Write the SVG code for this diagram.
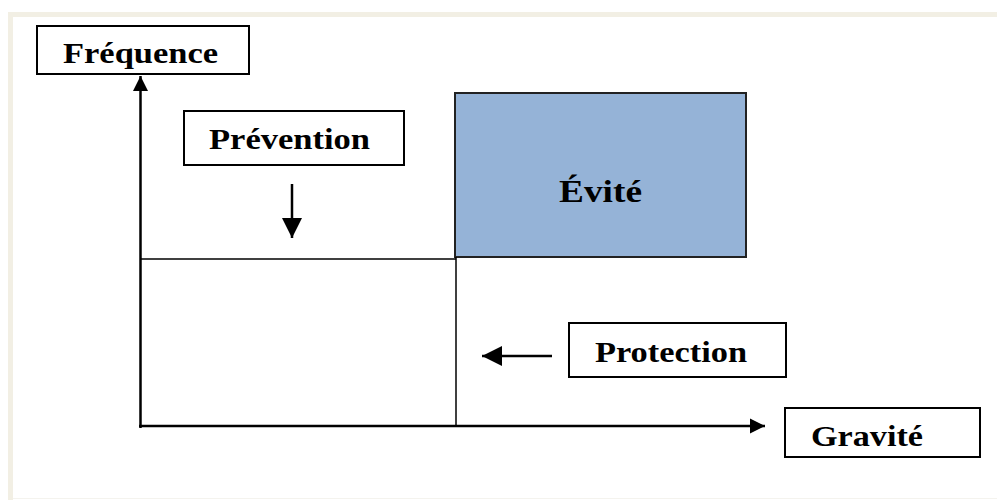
<svg xmlns="http://www.w3.org/2000/svg" width="997" height="500" viewBox="0 0 997 500">
<style>
.box{fill:#fff;stroke:#000;stroke-width:2}
.lbl{font-family:"Liberation Serif","Times New Roman",serif;font-weight:bold;fill:#000}
.axis{stroke:#000;stroke-width:2.5;fill:none}
.thin{stroke:#000;stroke-width:1.5;fill:none}
</style>
<defs>
<marker id="ah" viewBox="0 0 10 10" refX="10" refY="5" markerWidth="6" markerHeight="6.4" orient="auto" markerUnits="strokeWidth">
<path d="M0,0 L10,5 L0,10 z" fill="#000"/>
</marker>
<marker id="ah2" viewBox="0 0 10 10" refX="10" refY="5" markerWidth="8" markerHeight="9" orient="auto" markerUnits="strokeWidth">
<path d="M0,0 L10,5 L0,10 z" fill="#000"/>
</marker>
</defs>
<rect x="0" y="0" width="997" height="500" fill="#fff"/>
<rect x="8" y="12" width="989" height="5" fill="#F2EFE4"/>
<rect x="8" y="12" width="5" height="488" fill="#F2EFE4"/>
<line x1="13" y1="498.5" x2="997" y2="498.5" stroke="#F4F3EE" stroke-width="1"/>

<g id="evite">
<rect x="455" y="93" width="291" height="164" fill="#95B3D7" stroke="#222" stroke-width="2"/>
<text class="lbl" x="600.5" y="202" font-size="32" text-anchor="middle" textLength="83" lengthAdjust="spacingAndGlyphs">Évité</text>
</g>

<g id="connectors">
<line class="axis" x1="140.5" y1="428" x2="140.5" y2="76" marker-end="url(#ah)"/>
<line class="axis" x1="139" y1="426" x2="765" y2="426" marker-end="url(#ah)"/>
<line class="thin" x1="140" y1="259" x2="456" y2="259"/>
<line class="thin" x1="456" y1="257" x2="456" y2="427"/>
<line class="axis" x1="292" y1="184" x2="292" y2="238" stroke-width="2" marker-end="url(#ah2)"/>
<line class="axis" x1="552" y1="356" x2="482" y2="356" stroke-width="2" marker-end="url(#ah2)"/>
</g>

<g id="frequence">
<rect class="box" x="37" y="26" width="212" height="48"/>
<text class="lbl" x="63" y="63" font-size="30" textLength="155" lengthAdjust="spacingAndGlyphs">Fréquence</text>
</g>

<g id="prevention">
<rect class="box" x="184" y="111" width="220" height="54"/>
<text class="lbl" x="209" y="149" font-size="30" textLength="161" lengthAdjust="spacingAndGlyphs">Prévention</text>
</g>

<g id="protection">
<rect class="box" x="569" y="323" width="217" height="54"/>
<text class="lbl" x="595" y="362" font-size="30" textLength="152" lengthAdjust="spacingAndGlyphs">Protection</text>
</g>

<g id="gravite">
<rect class="box" x="785" y="408" width="195" height="49"/>
<text class="lbl" x="811" y="446" font-size="30" textLength="112" lengthAdjust="spacingAndGlyphs">Gravité</text>
</g>
</svg>
